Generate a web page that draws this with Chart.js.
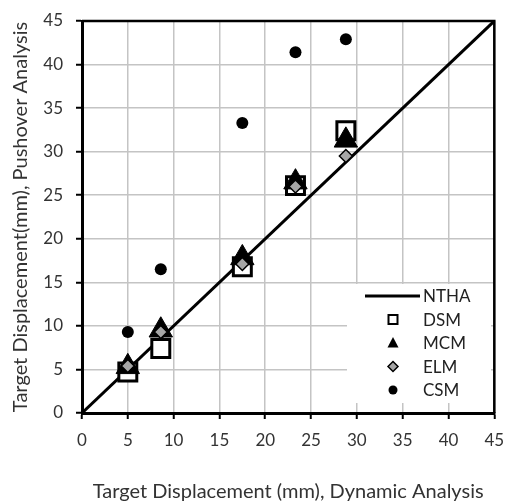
<!DOCTYPE html>
<html>
<head>
<meta charset="utf-8">
<script src="https://cdn.jsdelivr.net/npm/chart.js"></script>
<style>
  html, body { margin: 0; padding: 0; background: #fff; }
  #wrap { width: 510px; height: 504px; }
</style>
</head>
<body>
<div id="wrap"><canvas id="chart" width="510" height="504"></canvas></div>
<script>
// Werte
const xWerte = [5, 8.6, 17.5, 23.3, 28.8];
const nthaX = [0, 45];
const nthaY = [0, 45];
const dsmWerte = [4.7, 7.4, 16.8, 26.1, 32.4];
const mcmWerte = [5.3, 9.5, 17.8, 26.5, 31.3];
const elmWerte = [5.4, 9.3, 17.1, 26.0, 29.5];
const csmWerte = [9.3, 16.5, 33.3, 41.4, 42.9];
const achsenTicks = [0, 5, 10, 15, 20, 25, 30, 35, 40, 45];

const textFarbe = '#333';
const schrift = 'Lato, "Open Sans", sans-serif';

function punkte(xs, ys) {
    return xs.map((x, i) => ({ x: x, y: ys[i] }));
}

// Rahmen oben und rechts um die Zeichenfläche
const rahmenPlugin = {
    id: 'rahmen',
    afterDatasetsDraw(chart) {
        const { ctx, chartArea: a } = chart;
        ctx.save();
        ctx.strokeStyle = '#000';
        ctx.lineWidth = 2.5;
        ctx.beginPath();
        ctx.moveTo(a.left, a.top);
        ctx.lineTo(a.right, a.top);
        ctx.lineTo(a.right, a.bottom);
        ctx.stroke();
        ctx.restore();
    }
};

// Legende innerhalb der Zeichenfläche (unten rechts)
const legendePlugin = {
    id: 'legende',
    afterDraw(chart) {
        const ctx = chart.ctx;
        ctx.save();
        ctx.fillStyle = '#fff';
        ctx.fillRect(347, 284, 144, 119);
        const mx = 393;
        const tx = 423;
        ctx.font = '17px ' + schrift;
        ctx.textBaseline = 'middle';
        ctx.textAlign = 'left';
        chart.data.datasets.forEach((ds, i) => {
            const y = 296 + i * 23.5;
            ctx.strokeStyle = '#000';
            if (ds.pointStyle === 'line') {
                ctx.lineWidth = 3;
                ctx.beginPath();
                ctx.moveTo(365, y);
                ctx.lineTo(420, y);
                ctx.stroke();
            } else if (ds.pointStyle === 'rect') {
                ctx.fillStyle = '#fff';
                ctx.lineWidth = 2;
                ctx.fillRect(mx - 4.5, y - 4.5, 9, 9);
                ctx.strokeRect(mx - 4.5, y - 4.5, 9, 9);
            } else if (ds.pointStyle === 'triangle') {
                ctx.fillStyle = '#000';
                ctx.beginPath();
                ctx.moveTo(mx, y - 6);
                ctx.lineTo(mx + 5.5, y + 4.5);
                ctx.lineTo(mx - 5.5, y + 4.5);
                ctx.closePath();
                ctx.fill();
            } else if (ds.pointStyle === 'rectRot') {
                ctx.fillStyle = ds.backgroundColor;
                ctx.lineWidth = 1.5;
                ctx.beginPath();
                ctx.moveTo(mx, y - 5);
                ctx.lineTo(mx + 5, y);
                ctx.lineTo(mx, y + 5);
                ctx.lineTo(mx - 5, y);
                ctx.closePath();
                ctx.fill();
                ctx.stroke();
            } else {
                ctx.fillStyle = '#000';
                ctx.beginPath();
                ctx.arc(mx, y, 4.5, 0, Math.PI * 2);
                ctx.fill();
            }
            ctx.fillStyle = '#222';
            ctx.fillText(ds.label, tx, y + 1);
        });
        ctx.restore();
    }
};

const achse = (titel, titelPadding, tickPadding, groesse) => ({
    type: 'linear',
    min: 0,
    max: 45,
    afterBuildTicks: (scale) => { scale.ticks = achsenTicks.map(v => ({ value: v })); },
    afterFit: (s) => {
        groesse(s);
        s.paddingLeft = 0;
        s.paddingRight = 0;
        s.paddingTop = 0;
        s.paddingBottom = 0;
    },
    grid: {
        color: '#c4c4c4',
        lineWidth: 1.5,
        tickColor: '#000',
        tickLength: 6,
        tickWidth: 2
    },
    border: { color: '#000', width: 3 },
    ticks: {
        color: textFarbe,
        padding: tickPadding,
        font: { family: schrift, size: 17 }
    },
    title: {
        display: true,
        text: titel,
        color: textFarbe,
        padding: titelPadding,
        font: { family: schrift, size: 20 }
    }
});

new Chart(document.getElementById('chart').getContext('2d'), {
    type: 'scatter',
    data: {
        datasets: [
            {
                label: 'NTHA',
                data: punkte(nthaX, nthaY),
                showLine: true,
                borderColor: '#000',
                borderWidth: 3,
                pointRadius: 0,
                pointStyle: 'line',
                order: 5
            },
            {
                label: 'DSM',
                data: punkte(xWerte, dsmWerte),
                pointStyle: 'rect',
                pointRadius: 12.7,
                backgroundColor: '#fff',
                borderColor: '#000',
                borderWidth: 3,
                order: 4
            },
            {
                label: 'MCM',
                data: punkte(xWerte, mcmWerte),
                pointStyle: 'triangle',
                pointRadius: 13.5,
                backgroundColor: '#000',
                borderColor: '#000',
                borderWidth: 1,
                order: 3
            },
            {
                label: 'ELM',
                data: punkte(xWerte, elmWerte),
                pointStyle: 'rectRot',
                pointRadius: 6.5,
                backgroundColor: '#a6a6a6',
                borderColor: '#000',
                borderWidth: 1.5,
                order: 2
            },
            {
                label: 'CSM',
                data: punkte(xWerte, csmWerte),
                pointStyle: 'circle',
                pointRadius: 6,
                backgroundColor: '#000',
                borderColor: '#000',
                borderWidth: 0,
                order: 1
            }
        ]
    },
    options: {
        responsive: false,
        animation: false,
        layout: { padding: { left: 0, right: 12, top: 21, bottom: 0 } },
        plugins: {
            legend: { display: false },
            tooltip: { enabled: false }
        },
        scales: {
            x: achse('Target Displacement (mm), Dynamic Analysis', { top: 0, bottom: 0 }, 11,
                (s) => { s.height = 91; }),
            y: achse('Target Displacement(mm), Pushover Analysis', { top: 9, bottom: 0 }, 13,
                (s) => { s.width = 82; })
        }
    },
    plugins: [rahmenPlugin, legendePlugin]
});
</script>
</body>
</html>
